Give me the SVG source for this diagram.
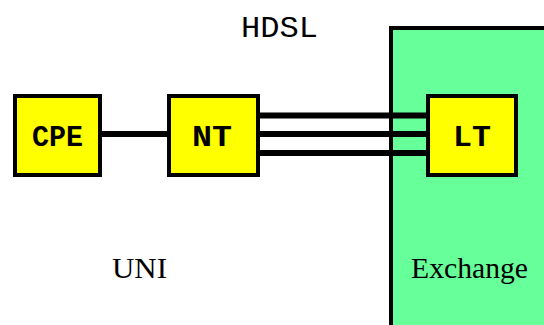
<svg xmlns="http://www.w3.org/2000/svg" width="544" height="325" viewBox="0 0 544 325">
<style>
.box{fill:#FFFF00;stroke:#000;stroke-width:4}
.mono{font-family:"Liberation Mono","Courier New",monospace;font-size:30px;fill:#000}
.serif{font-family:"Liberation Serif","Times New Roman",serif;font-size:30px;fill:#000}
.wire{stroke:#000;stroke-width:6;fill:none}
</style>
<rect width="544" height="325" fill="#fff"/>
<g id="exchange">
<rect x="391" y="28" width="160" height="310" fill="#66FF99" stroke="#000" stroke-width="4"/>
<text class="serif" x="411" y="278" textLength="117" lengthAdjust="spacingAndGlyphs">Exchange</text>
</g>
<g id="connectors">
<line class="wire" x1="102" y1="134" x2="168" y2="134"/>
<line class="wire" x1="259" y1="115.5" x2="427" y2="115.5"/>
<line class="wire" x1="259" y1="134" x2="427" y2="134"/>
<line class="wire" x1="259" y1="153" x2="427" y2="153"/>
</g>
<g id="cpe">
<rect class="box" x="15" y="96" width="85" height="79"/>
<text class="mono" x="32" y="146" font-weight="bold" textLength="51" lengthAdjust="spacingAndGlyphs">CPE</text>
</g>
<g id="nt">
<rect class="box" x="169" y="96" width="89" height="79"/>
<text class="mono" x="192" y="146" font-weight="bold" textLength="40" lengthAdjust="spacingAndGlyphs">NT</text>
</g>
<g id="lt">
<rect class="box" x="428" y="96" width="88" height="79"/>
<text class="mono" x="453" y="146" font-weight="bold" textLength="38" lengthAdjust="spacingAndGlyphs">LT</text>
</g>
<g id="labels">
<text class="mono" x="241" y="37" textLength="77" lengthAdjust="spacingAndGlyphs">HDSL</text>
<text class="serif" x="112" y="278" textLength="55" lengthAdjust="spacingAndGlyphs">UNI</text>
</g>
</svg>
